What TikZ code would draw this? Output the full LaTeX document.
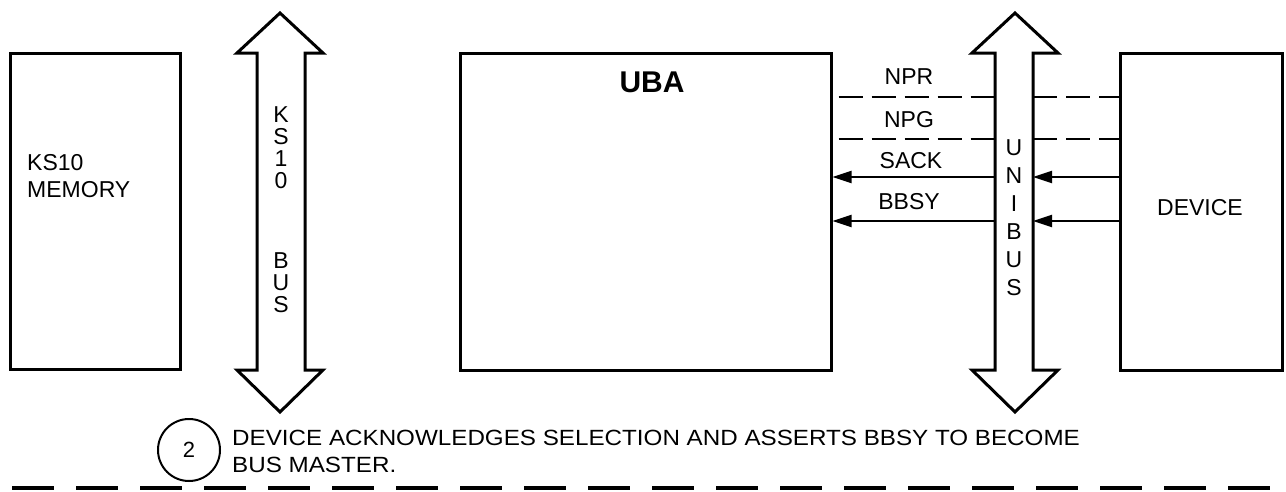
\documentclass[tikz,border=0pt]{standalone}
\usepackage{fontspec}
\setmainfont{Liberation Sans}
\usetikzlibrary{arrows.meta,calc}
\begin{document}
\begin{tikzpicture}[x=1pt,y=-1pt,
  box/.style={draw,line width=3pt,minimum width=#1},
  lab/.style={font=\fontsize{23}{27}\selectfont,inner sep=0pt},
  vlet/.style={font=\fontsize{23}{27}\selectfont,inner sep=0pt,text height=16.5pt,text depth=0pt},
  bus/.style={draw,line width=3pt,line join=miter},
  sig/.style={line width=2pt,-{Triangle[length=19pt,width=12pt]}},
  dsig/.style={line width=2.5pt,dash pattern=on 24pt off 9pt},
  note/.style={font=\fontsize{22}{27}\selectfont,inner sep=0pt,xscale=1.1,anchor=base west}]
\useasboundingbox (0,0) rectangle (1286,491);
% boxes
\node[box=170pt,minimum height=316pt] (mem) at (95,211) {};
\node[box=371pt,minimum height=317pt] (uba) at (645.5,211.5) {};
\node[box=162pt,minimum height=317pt] (dev) at (1201,211.5) {};
\node[lab,anchor=west] (memt1) at (27,163) {KS10};
\node[lab,anchor=west] (memt2) at (27,190) {MEMORY};
\node[font=\bfseries\fontsize{30}{34}\selectfont,inner sep=0pt] (ubat) at (652,82) {UBA};
\node[lab] (devt) at (1200,208) {DEVICE};
% KS10 bus
\draw[bus] (257,53) -- (237,53) -- (280,13) -- (323,53) -- (305,53) -- (305,370)
  -- (323,370) -- (280,412) -- (237,370) -- (257,370) -- cycle;
\node[vlet] (k1) at (281,114) {K};
\node[vlet] (k2) at (281,136) {S};
\node[vlet] (k3) at (281,158) {1};
\node[vlet] (k4) at (281,180) {0};
\node[vlet] (k5) at (281,260) {B};
\node[vlet] (k6) at (281,282) {U};
\node[vlet] (k7) at (281,304) {S};
% UNIBUS
\draw[bus] (995,53) -- (972,53) -- (1015,13) -- (1058,53) -- (1033,53) -- (1033,370)
  -- (1058,370) -- (1015,412) -- (972,370) -- (995,370) -- cycle;
\coordinate (ubL) at (995,0);
\coordinate (ubR) at (1033,0);
\node[vlet] (u1) at (1014,147) {U};
\node[vlet] (u2) at (1014,175) {N};
\node[vlet] (u3) at (1014,203) {I};
\node[vlet] (u4) at (1014,231) {B};
\node[vlet] (u5) at (1014,259) {U};
\node[vlet] (u6) at (1014,287) {S};
% signal levels
\coordinate (yNPR) at (0,97);
\coordinate (yNPG) at (0,139);
\coordinate (ySACK) at (0,177);
\coordinate (yBBSY) at (0,221);
\draw[dsig,shorten <=6pt] (uba.east |- yNPR) -- (ubL |- yNPR);
\draw[dsig] (ubR |- yNPR) -- (dev.west |- yNPR);
\draw[dsig,shorten <=6pt] (uba.east |- yNPG) -- (ubL |- yNPG);
\draw[dsig] (ubR |- yNPG) -- (dev.west |- yNPG);
\draw[sig] (ubL |- ySACK) -- (uba.east |- ySACK);
\draw[sig] (dev.west |- ySACK) -- (ubR |- ySACK);
\draw[sig] (ubL |- yBBSY) -- (uba.east |- yBBSY);
\draw[sig] (dev.west |- yBBSY) -- (ubR |- yBBSY);
\node[lab] (npr) at (909,77) {NPR};
\node[lab] (npg) at (909,120) {NPG};
\node[lab] (sack) at (911,161) {SACK};
\node[lab] (bbsy) at (909,202) {BBSY};
% note
\node[draw,circle,line width=2pt,minimum size=62pt,inner sep=0pt,font=\fontsize{22}{26}\selectfont] (step2) at (189,450) {2};
\node[note] (n1) at (232,445) {DEVICE ACKNOWLEDGES SELECTION AND ASSERTS BBSY TO BECOME};
\node[note] (n2) at (232,472) {BUS MASTER.};
\coordinate (dl) at (12,488);
\coordinate (dr) at (1286,488);
\draw[line width=3.5pt,dash pattern=on 42pt off 22pt] (dl) -- (dr);
\end{tikzpicture}
\end{document}
